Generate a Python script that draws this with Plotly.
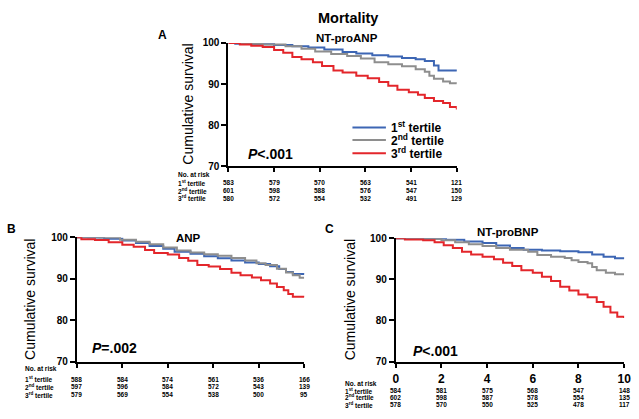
import plotly.graph_objects as go

# ---------------- data ----------------
tertiles = ["1<sup>st</sup> tertile", "2<sup>nd</sup> tertile", "3<sup>rd</sup> tertile"]
colors = ["#3d66b4", "#8e8e8e", "#e3262b"]
years = [0, 2, 4, 6, 8, 10]

# Panel A: NT-proANP
a_t1 = [0, 0.3, 1.0, 2.0, 2.8, 3.5, 4.2, 5.0, 5.6, 6.3, 7.0, 7.6, 8.2, 8.6, 9.0, 9.2, 10]
a_s1 = [100, 99.8, 99.7, 99.5, 99.2, 98.9, 98.4, 97.8, 97.4, 97.0, 96.7, 96.3, 96.0, 95.6, 94.5, 93.3, 93.1]
a_t2 = [0, 0.5, 1.5, 2.5, 3.2, 3.8, 4.5, 5.2, 5.8, 6.4, 7.0, 7.6, 8.2, 8.6, 8.8, 9.0, 9.4, 9.7, 10]
a_s2 = [100, 99.8, 99.6, 99.2, 98.6, 97.9, 97.3, 96.8, 96.2, 95.3, 94.8, 94.3, 93.6, 93.0, 92.0, 91.3, 90.6, 90.2, 90.1]
a_t3 = [0, 0.5, 1.0, 1.5, 2.0, 2.4, 2.8, 3.2, 3.7, 4.1, 4.6, 5.0, 5.6, 6.1, 6.6, 7.0, 7.4, 7.9, 8.3, 8.6, 9.0, 9.4, 9.7, 10]
a_s3 = [100, 99.6, 99.3, 99.0, 98.3, 97.6, 96.6, 96.0, 95.3, 94.4, 93.3, 92.8, 92.0, 91.4, 90.5, 89.6, 88.6, 88.0, 87.4, 86.6, 85.9, 85.4, 84.4, 83.8]
a_risk1 = [583, 579, 570, 563, 541, 121]
a_risk2 = [601, 598, 588, 576, 547, 150]
a_risk3 = [580, 572, 554, 532, 491, 129]

# Panel B: ANP
b_t1 = [0, 0.5, 1.2, 2.0, 2.6, 3.2, 3.8, 4.3, 5.0, 5.6, 6.2, 6.8, 7.4, 8.0, 8.5, 8.9, 9.2, 9.5, 10]
b_s1 = [100, 99.9, 99.6, 99.2, 98.6, 97.9, 97.2, 96.5, 96.0, 95.4, 94.9, 94.4, 93.9, 93.5, 93.0, 92.3, 91.6, 91.1, 91.0]
b_t2 = [0, 1.0, 1.9, 2.6, 3.2, 3.8, 4.4, 5.0, 5.6, 6.2, 6.8, 7.4, 7.9, 8.3, 8.8, 9.2, 9.5, 9.8, 10]
b_s2 = [100, 99.9, 99.4, 98.9, 98.3, 97.5, 96.8, 96.3, 95.9, 95.5, 95.0, 94.4, 93.7, 93.3, 92.4, 91.5, 90.8, 90.2, 90.2]
b_t3 = [0, 0.2, 0.8, 1.4, 2.0, 2.5, 3.0, 3.4, 4.0, 4.5, 4.9, 5.3, 5.8, 6.3, 6.8, 7.2, 7.7, 8.1, 8.5, 8.8, 9.1, 9.3, 9.5, 10]
b_s3 = [100, 99.5, 99.3, 98.8, 98.2, 97.7, 96.9, 96.2, 95.8, 95.0, 94.3, 93.3, 92.9, 92.3, 91.4, 90.8, 90.3, 89.6, 88.8, 88.0, 87.2, 86.3, 85.6, 85.5]
b_risk1 = [588, 584, 574, 561, 536, 166]
b_risk2 = [597, 596, 584, 572, 543, 139]
b_risk3 = [579, 569, 554, 538, 500, 95]

# Panel C: NT-proBNP
c_t1 = [0, 1.5, 2.2, 3.0, 3.8, 4.4, 5.0, 5.6, 6.4, 7.2, 8.0, 8.6, 9.1, 9.6, 10]
c_s1 = [100, 99.9, 99.6, 99.2, 98.8, 98.2, 97.6, 97.2, 97.0, 96.8, 96.6, 96.0, 95.5, 95.1, 95.0]
c_t2 = [0, 1.2, 2.0, 2.6, 3.2, 3.8, 4.4, 5.0, 5.8, 6.2, 6.8, 7.4, 7.7, 8.0, 8.4, 8.6, 8.8, 9.2, 9.6, 10]
c_s2 = [100, 99.8, 99.5, 99.0, 98.5, 98.1, 97.6, 97.2, 96.7, 95.9, 95.5, 95.2, 94.6, 94.2, 93.9, 93.0, 92.2, 91.6, 91.2, 91.2]
c_t3 = [0, 0.4, 1.2, 1.7, 2.1, 2.5, 2.9, 3.3, 3.8, 4.3, 4.7, 5.1, 5.5, 6.0, 6.4, 6.8, 7.2, 7.6, 8.0, 8.4, 8.8, 9.1, 9.4, 9.7, 10]
c_s3 = [100, 99.7, 99.5, 99.0, 98.3, 97.6, 96.7, 96.0, 95.5, 94.9, 94.0, 93.2, 92.2, 91.6, 90.6, 89.6, 88.2, 87.3, 86.3, 85.6, 84.5, 83.3, 81.9, 80.9, 80.6]
c_risk1 = [584, 581, 575, 568, 547, 148]
c_risk2 = [602, 598, 587, 578, 554, 135]
c_risk3 = [578, 570, 550, 525, 478, 117]

W, H = 639, 419
FONT = "Liberation Sans, Arial, sans-serif"


def py(p):  # pixel-from-top -> paper y
    return 1 - p / H


def px(p):
    return p / W


fig = go.Figure()

panels = [
    dict(ax="", t=[a_t1, a_t2, a_t3], s=[a_s1, a_s2, a_s3], risk=[a_risk1, a_risk2, a_risk3],
         xd=(229, 461), yd=(38, 165), letter="A", lpos=(162, 30), name="NT-proANP", npos=(349, 33),
         ytitle_x=188, pval="<b><i>P</i>&lt;.001</b>", ppos=(247, 152),
         risk_y=(173.5, 182, 190, 198), lab_x=176, ticklabels=False),
    dict(ax="2", t=[b_t1, b_t2, b_t3], s=[b_s1, b_s2, b_s3], risk=[b_risk1, b_risk2, b_risk3],
         xd=(75, 306), yd=(238, 366), letter="B", lpos=(9, 230), name="ANP", npos=(188, 239),
         ytitle_x=28, pval="<b><i>P</i>=.002</b>", ppos=(88, 352),
         risk_y=(373, 384, 392, 400), lab_x=20, ticklabels=False),
    dict(ax="3", t=[c_t1, c_t2, c_t3], s=[c_s1, c_s2, c_s3], risk=[c_risk1, c_risk2, c_risk3],
         xd=(399, 631), yd=(239, 366), letter="C", lpos=(332, 230), name="NT-proBNP", npos=(513, 233),
         ytitle_x=352, pval="<b><i>P</i>&lt;.001</b>", ppos=(414, 355),
         risk_y=(389, 396, 403, 410.5), lab_x=345, ticklabels=True),
]

annotations = []
for p in panels:
    xa = "x" + p["ax"]
    ya = "y" + p["ax"]
    for i in range(3):
        fig.add_trace(go.Scatter(
            x=p["t"][i], y=p["s"][i], mode="lines", line=dict(color=colors[i], width=2, shape="hv"),
            xaxis=xa, yaxis=ya, showlegend=False, cliponaxis=False, hoverinfo="skip"))
    xkey = "xaxis" + p["ax"]
    ykey = "yaxis" + p["ax"]
    fig.layout[xkey] = dict(
        domain=[px(p["xd"][0]), px(p["xd"][1])], range=[0, 10], anchor=ya,
        tickvals=years, ticktext=[str(v) for v in years], showticklabels=p["ticklabels"],
        ticks="outside", ticklen=4, tickwidth=2, tickcolor="black", ticklabelstandoff=1,
        showline=True, linecolor="black", linewidth=2, showgrid=False, zeroline=False,
        tickfont=dict(family=FONT, size=12, color="black", weight="bold"))
    fig.layout[ykey] = dict(
        domain=[py(p["yd"][1]), py(p["yd"][0])], range=[70, 100], anchor=xa,
        tickvals=[70, 80, 90, 100], ticks="outside", ticklen=5, tickwidth=2, tickcolor="black",
        showline=True, linecolor="black", linewidth=2, showgrid=False, zeroline=False,
        tickfont=dict(family=FONT, size=10, color="black", weight="bold"))
    annotations.append(dict(text="<b>%s</b>" % p["letter"], x=px(p["lpos"][0]), y=py(p["lpos"][1]),
                            xref="paper", yref="paper", showarrow=False, xanchor="center", yanchor="middle",
                            font=dict(family=FONT, size=12, color="black")))
    annotations.append(dict(text="<b>%s</b>" % p["name"], x=px(p["npos"][0]), y=py(p["npos"][1]),
                            xref="paper", yref="paper", showarrow=False, xanchor="center", yanchor="middle",
                            font=dict(family=FONT, size=11.5, color="black")))
    annotations.append(dict(text="Cumulative survival", x=px(p["ytitle_x"]),
                            y=py((p["yd"][0] + p["yd"][1]) / 2), textangle=-90,
                            xref="paper", yref="paper", showarrow=False, xanchor="center", yanchor="middle",
                            font=dict(family=FONT, size=14, color="black")))
    annotations.append(dict(text=p["pval"], x=px(p["ppos"][0]), y=py(p["ppos"][1]),
                            xref="paper", yref="paper", showarrow=False, xanchor="left", yanchor="middle",
                            font=dict(family=FONT, size=14, color="black")))
    annotations.append(dict(text="<b>No. at risk</b>", x=px(p["lab_x"]), y=py(p["risk_y"][0]),
                            xref="paper", yref="paper", showarrow=False, xanchor="left", yanchor="middle",
                            font=dict(family=FONT, size=6.5, color="black")))
    for r in range(3):
        annotations.append(dict(text="<b>%s</b>" % tertiles[r], x=px(p["lab_x"]), y=py(p["risk_y"][r + 1]),
                                xref="paper", yref="paper", showarrow=False, xanchor="left", yanchor="middle",
                                font=dict(family=FONT, size=6.5, color="black")))
        for k, yr in enumerate(years):
            annotations.append(dict(text="<b>%d</b>" % p["risk"][r][k], x=yr, y=py(p["risk_y"][r + 1]),
                                    xref=xa, yref="paper", showarrow=False, xanchor="center", yanchor="middle",
                                    font=dict(family=FONT, size=6.5, color="black")))

annotations.append(dict(text="<b>Mortality</b>", x=px(350), y=py(12), xref="paper", yref="paper",
                        showarrow=False, xanchor="center", yanchor="middle",
                        font=dict(family=FONT, size=14.5, color="black")))

shapes = []
leg_y = [125, 138, 151.5]
for i in range(3):
    shapes.append(dict(type="line", xref="paper", yref="paper", x0=px(355), x1=px(389),
                       y0=py(leg_y[i]), y1=py(leg_y[i]), line=dict(color=colors[i], width=2)))
    annotations.append(dict(text="<b>%s</b>" % tertiles[i], x=px(392), y=py(leg_y[i]), xref="paper", yref="paper",
                            showarrow=False, xanchor="left", yanchor="middle",
                            font=dict(family=FONT, size=12, color="black")))

fig.update_layout(width=W, height=H, margin=dict(l=0, r=0, t=0, b=0),
                  paper_bgcolor="white", plot_bgcolor="white",
                  annotations=annotations, shapes=shapes, showlegend=False)

fig.write_html("out.html", config={"displayModeBar": False},
               post_script="document.body.style.margin='0';document.body.style.overflow='hidden';")
